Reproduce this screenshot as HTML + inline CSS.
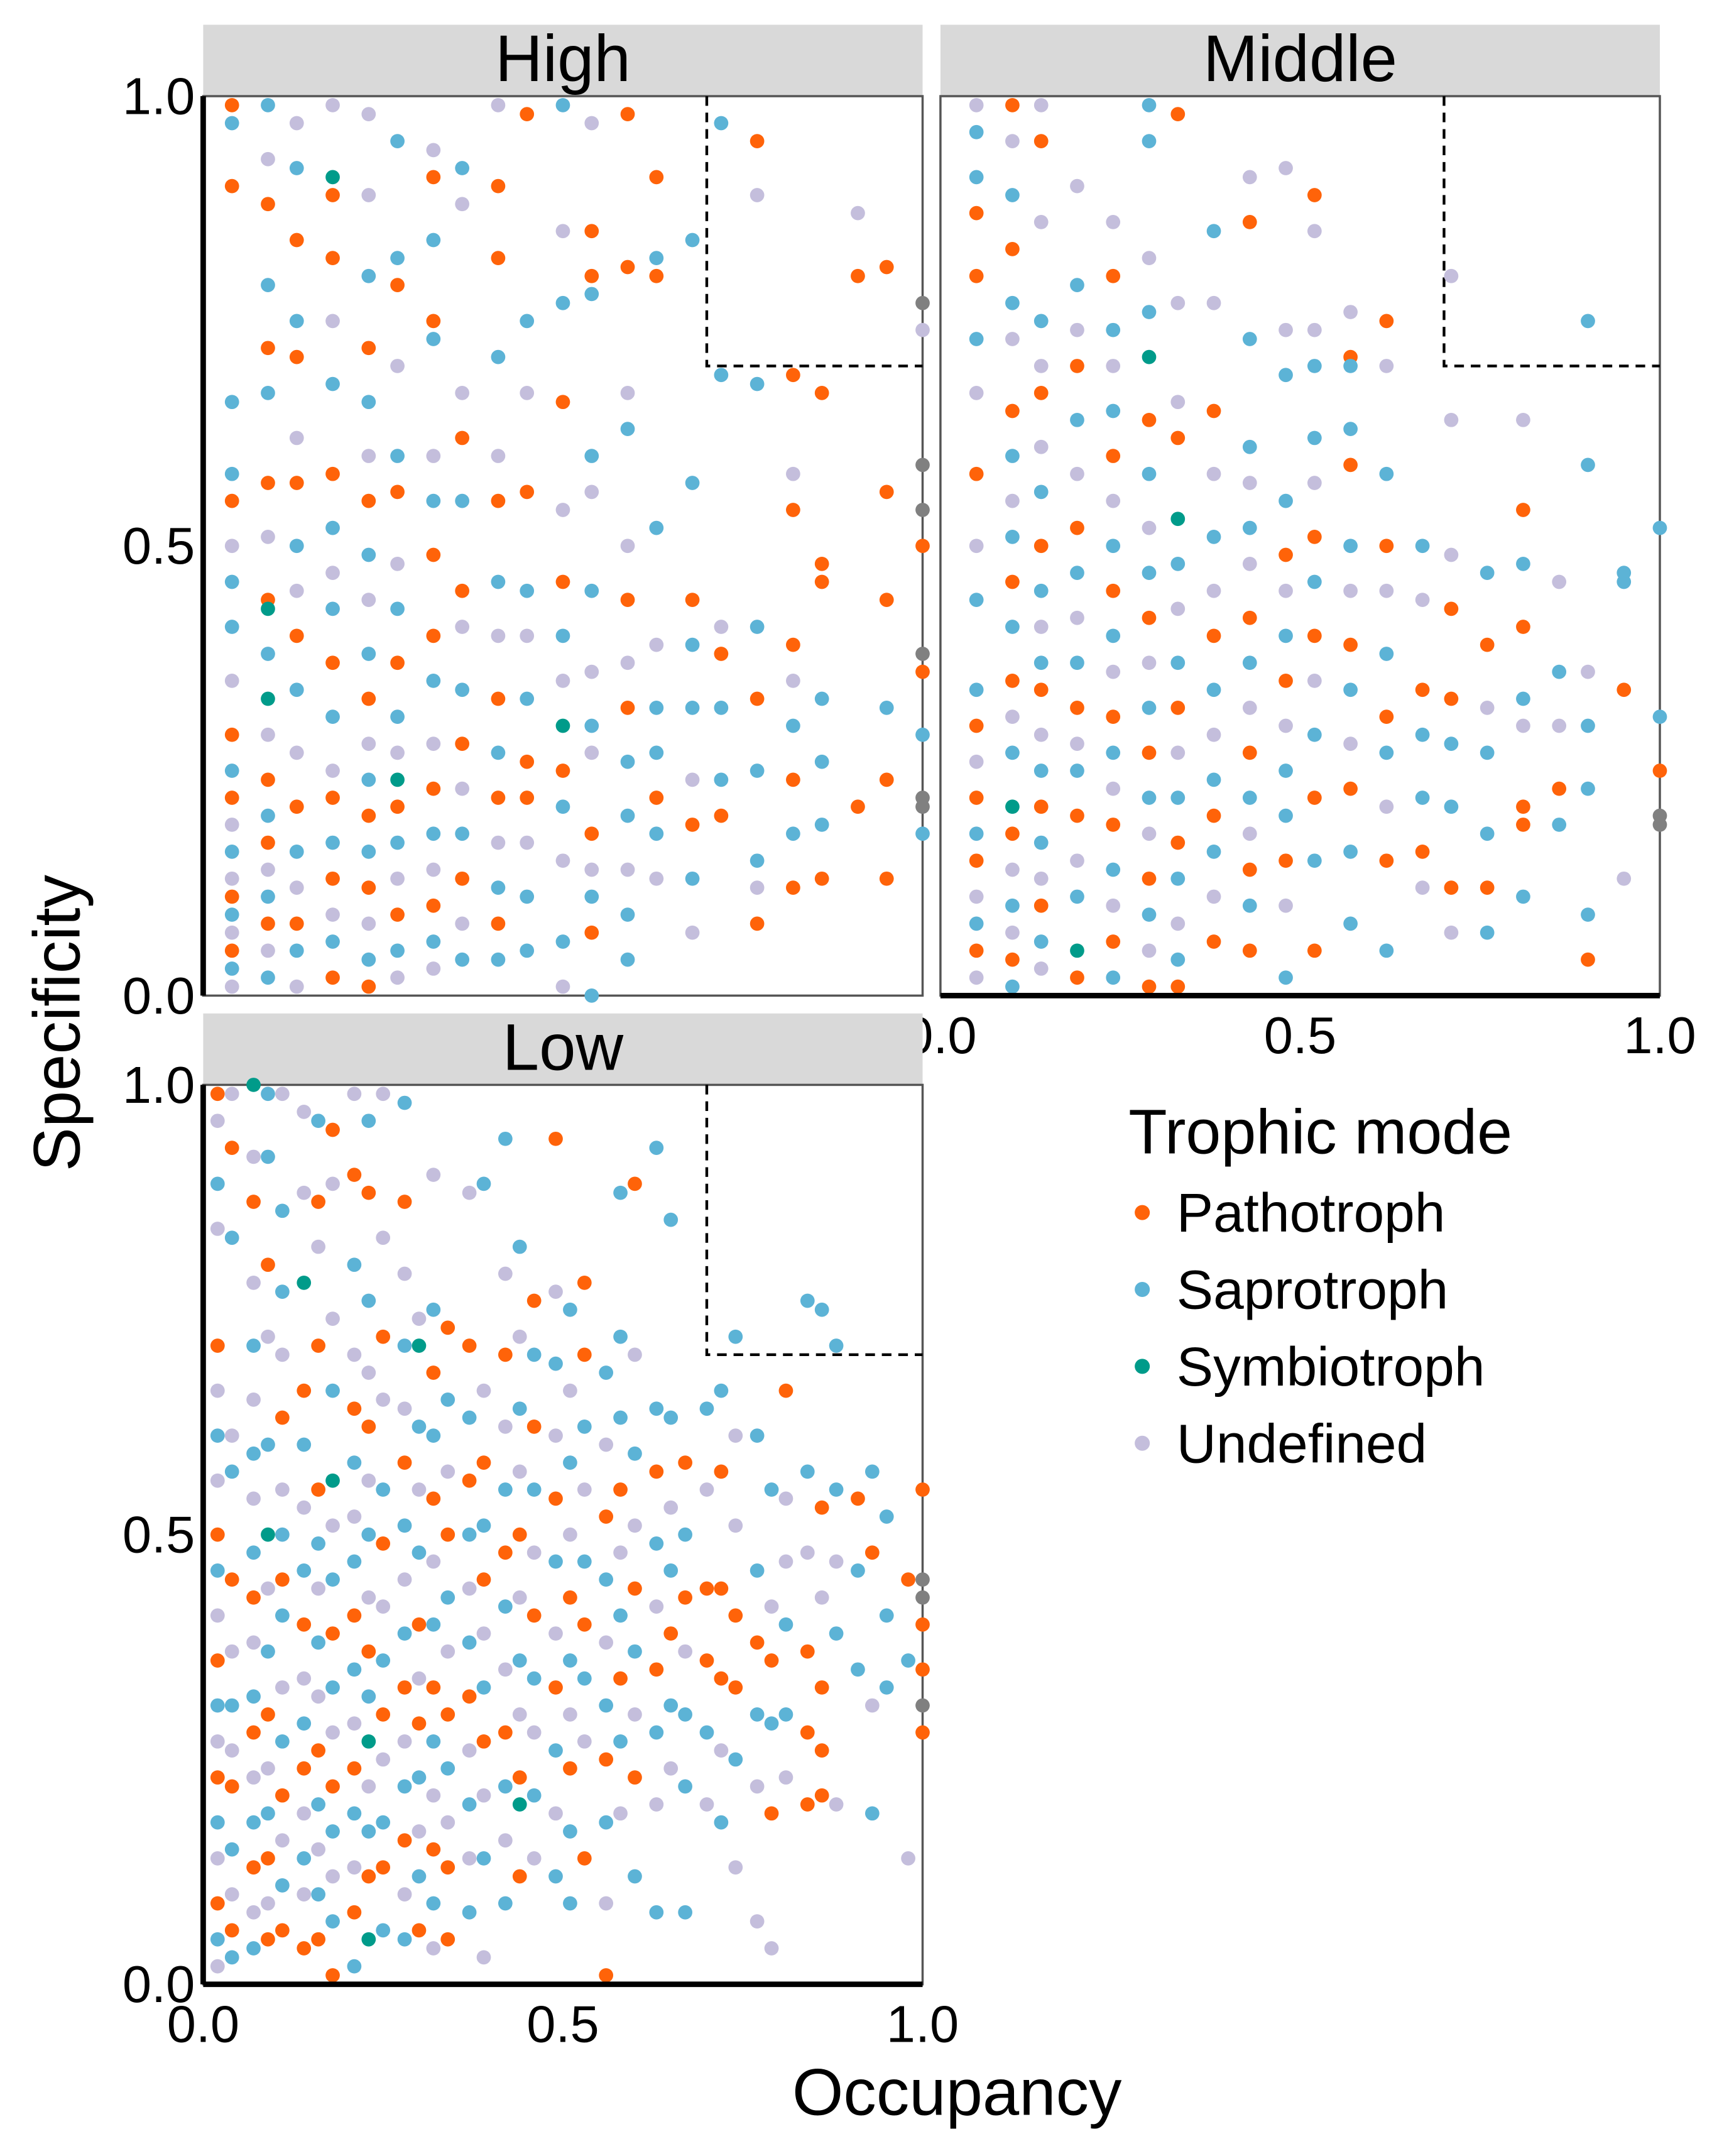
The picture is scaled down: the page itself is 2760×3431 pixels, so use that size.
<!DOCTYPE html>
<html><head><meta charset="utf-8"><style>
html,body{margin:0;padding:0;background:#fff}
svg{display:block}
text{font-family:"Liberation Sans",Arial,sans-serif}
</style></head><body>
<svg id="chart" width="2760" height="3431" viewBox="0 0 1263 1570" xmlns="http://www.w3.org/2000/svg">
<g id="root"></g>
</svg>
<script>
// Data arrays: "x,y,mode" triples per facet (P=Pathotroph,S=Saprotroph,Y=Symbiotroph,U=Undefined,G=grey)
const highPts = "0.04,0.99,P;0.04,0.97,S;0.04,0.90,P;0.04,0.66,S;0.04,0.58,S;0.04,0.55,P;0.04,0.50,U;0.04,0.46,S;0.04,0.41,S;0.04,0.35,U;0.04,0.29,P;0.04,0.25,S;0.04,0.22,P;0.04,0.19,U;0.04,0.16,S;0.04,0.13,U;0.04,0.11,P;0.04,0.09,S;0.04,0.07,U;0.04,0.05,P;0.04,0.03,S;0.04,0.01,U;0.09,0.99,S;0.09,0.93,U;0.09,0.88,P;0.09,0.79,S;0.09,0.72,P;0.09,0.67,S;0.09,0.57,P;0.09,0.51,U;0.09,0.44,P;0.09,0.43,Y;0.09,0.38,S;0.09,0.33,Y;0.09,0.29,U;0.09,0.24,P;0.09,0.20,S;0.09,0.17,P;0.09,0.14,U;0.09,0.11,S;0.09,0.08,P;0.09,0.05,U;0.09,0.02,S;0.13,0.97,U;0.13,0.92,S;0.13,0.84,P;0.13,0.75,S;0.13,0.71,P;0.13,0.62,U;0.13,0.57,P;0.13,0.50,S;0.13,0.45,U;0.13,0.40,P;0.13,0.34,S;0.13,0.27,U;0.13,0.21,P;0.13,0.16,S;0.13,0.12,U;0.13,0.08,P;0.13,0.05,S;0.13,0.01,U;0.18,0.99,U;0.18,0.91,Y;0.18,0.89,P;0.18,0.82,P;0.18,0.75,U;0.18,0.68,S;0.18,0.58,P;0.18,0.52,S;0.18,0.47,U;0.18,0.43,S;0.18,0.37,P;0.18,0.31,S;0.18,0.25,U;0.18,0.22,P;0.18,0.17,S;0.18,0.13,P;0.18,0.09,U;0.18,0.06,S;0.18,0.02,P;0.23,0.98,U;0.23,0.89,U;0.23,0.80,S;0.23,0.72,P;0.23,0.66,S;0.23,0.60,U;0.23,0.55,P;0.23,0.49,S;0.23,0.44,U;0.23,0.38,S;0.23,0.33,P;0.23,0.28,U;0.23,0.24,S;0.23,0.20,P;0.23,0.16,S;0.23,0.12,P;0.23,0.08,U;0.23,0.04,S;0.23,0.01,P;0.27,0.95,S;0.27,0.82,S;0.27,0.79,P;0.27,0.70,U;0.27,0.60,S;0.27,0.56,P;0.27,0.48,U;0.27,0.43,S;0.27,0.37,P;0.27,0.31,S;0.27,0.27,U;0.27,0.24,Y;0.27,0.21,P;0.27,0.17,S;0.27,0.13,U;0.27,0.09,P;0.27,0.05,S;0.27,0.02,U;0.32,0.94,U;0.32,0.91,P;0.32,0.84,S;0.32,0.75,P;0.32,0.73,S;0.32,0.60,U;0.32,0.55,S;0.32,0.49,P;0.32,0.40,P;0.32,0.35,S;0.32,0.28,U;0.32,0.23,P;0.32,0.18,S;0.32,0.14,U;0.32,0.10,P;0.32,0.06,S;0.32,0.03,U;0.36,0.92,S;0.36,0.88,U;0.36,0.67,U;0.36,0.62,P;0.36,0.55,S;0.36,0.45,P;0.36,0.41,U;0.36,0.34,S;0.36,0.28,P;0.36,0.23,U;0.36,0.18,S;0.36,0.13,P;0.36,0.08,U;0.36,0.04,S;0.41,0.99,U;0.41,0.90,P;0.41,0.82,P;0.41,0.71,S;0.41,0.60,U;0.41,0.55,P;0.41,0.46,S;0.41,0.40,U;0.41,0.33,P;0.41,0.27,S;0.41,0.22,P;0.41,0.17,U;0.41,0.12,S;0.41,0.08,P;0.41,0.04,S;0.45,0.98,P;0.45,0.75,S;0.45,0.67,U;0.45,0.56,P;0.45,0.45,S;0.45,0.40,U;0.45,0.33,S;0.45,0.26,P;0.45,0.22,P;0.45,0.17,U;0.45,0.11,S;0.45,0.05,S;0.50,0.99,S;0.50,0.85,U;0.50,0.77,S;0.50,0.66,P;0.50,0.54,U;0.50,0.46,P;0.50,0.40,S;0.50,0.35,U;0.50,0.30,Y;0.50,0.25,P;0.50,0.21,S;0.50,0.15,U;0.50,0.06,S;0.50,0.01,U;0.54,0.97,U;0.54,0.85,P;0.54,0.80,P;0.54,0.78,S;0.54,0.60,S;0.54,0.56,U;0.54,0.45,S;0.54,0.36,U;0.54,0.30,S;0.54,0.27,U;0.54,0.18,P;0.54,0.14,U;0.54,0.11,S;0.54,0.07,P;0.54,0.00,S;0.59,0.98,P;0.59,0.81,P;0.59,0.67,U;0.59,0.63,S;0.59,0.50,U;0.59,0.44,P;0.59,0.37,U;0.59,0.32,P;0.59,0.26,S;0.59,0.20,S;0.59,0.14,U;0.59,0.09,S;0.59,0.04,S;0.63,0.91,P;0.63,0.82,S;0.63,0.80,P;0.63,0.52,S;0.63,0.39,U;0.63,0.32,S;0.63,0.27,S;0.63,0.22,P;0.63,0.18,S;0.63,0.13,U;0.68,0.84,S;0.68,0.57,S;0.68,0.44,P;0.68,0.39,S;0.68,0.32,S;0.68,0.24,U;0.68,0.19,P;0.68,0.13,S;0.68,0.07,U;0.72,0.97,S;0.72,0.69,S;0.72,0.41,U;0.72,0.38,P;0.72,0.32,S;0.72,0.24,S;0.72,0.20,P;0.77,0.95,P;0.77,0.89,U;0.77,0.68,S;0.77,0.41,S;0.77,0.33,P;0.77,0.25,S;0.77,0.15,S;0.77,0.12,U;0.77,0.08,P;0.82,0.69,P;0.82,0.58,U;0.82,0.54,P;0.82,0.39,P;0.82,0.35,U;0.82,0.30,S;0.82,0.24,P;0.82,0.18,S;0.82,0.12,P;0.86,0.67,P;0.86,0.46,P;0.86,0.48,P;0.86,0.33,S;0.86,0.26,S;0.86,0.19,S;0.86,0.13,P;0.91,0.87,U;0.91,0.80,P;0.91,0.21,P;0.95,0.81,P;0.95,0.56,P;0.95,0.44,P;0.95,0.32,S;0.95,0.24,P;0.95,0.13,P;1.0,0.77,G;1.0,0.74,U;1.0,0.59,G;1.0,0.54,G;1.0,0.50,P;1.0,0.38,G;1.0,0.36,P;1.0,0.29,S;1.0,0.22,G;1.0,0.21,G;1.0,0.18,S";
const middlePts = "0.05,0.99,U;0.05,0.96,S;0.05,0.91,S;0.05,0.87,P;0.05,0.80,P;0.05,0.73,S;0.05,0.67,U;0.05,0.58,P;0.05,0.50,U;0.05,0.44,S;0.05,0.34,S;0.05,0.30,P;0.05,0.26,U;0.05,0.22,P;0.05,0.18,S;0.05,0.15,P;0.05,0.11,U;0.05,0.08,S;0.05,0.05,P;0.05,0.02,U;0.1,0.99,P;0.1,0.95,U;0.1,0.89,S;0.1,0.83,P;0.1,0.77,S;0.1,0.73,U;0.1,0.65,P;0.1,0.60,S;0.1,0.55,U;0.1,0.51,S;0.1,0.46,P;0.1,0.41,S;0.1,0.35,P;0.1,0.31,U;0.1,0.27,S;0.1,0.21,Y;0.1,0.18,P;0.1,0.14,U;0.1,0.10,S;0.1,0.07,U;0.1,0.04,P;0.1,0.01,S;0.14,0.99,U;0.14,0.95,P;0.14,0.86,U;0.14,0.75,S;0.14,0.70,U;0.14,0.67,P;0.14,0.61,U;0.14,0.56,S;0.14,0.50,P;0.14,0.45,S;0.14,0.41,U;0.14,0.37,S;0.14,0.34,P;0.14,0.29,U;0.14,0.25,S;0.14,0.21,P;0.14,0.17,S;0.14,0.13,U;0.14,0.10,P;0.14,0.06,S;0.14,0.03,U;0.19,0.90,U;0.19,0.79,S;0.19,0.74,U;0.19,0.70,P;0.19,0.64,S;0.19,0.58,U;0.19,0.52,P;0.19,0.47,S;0.19,0.42,U;0.19,0.37,S;0.19,0.32,P;0.19,0.28,U;0.19,0.25,S;0.19,0.20,P;0.19,0.15,U;0.19,0.11,S;0.19,0.05,Y;0.19,0.02,P;0.24,0.86,U;0.24,0.80,P;0.24,0.74,S;0.24,0.70,U;0.24,0.65,S;0.24,0.60,P;0.24,0.55,U;0.24,0.50,S;0.24,0.45,P;0.24,0.40,S;0.24,0.36,U;0.24,0.31,P;0.24,0.27,S;0.24,0.23,U;0.24,0.19,P;0.24,0.14,S;0.24,0.10,U;0.24,0.06,P;0.24,0.02,S;0.29,0.99,S;0.29,0.95,S;0.29,0.82,U;0.29,0.76,S;0.29,0.71,Y;0.29,0.64,P;0.29,0.58,S;0.29,0.52,U;0.29,0.47,S;0.29,0.42,P;0.29,0.37,U;0.29,0.32,S;0.29,0.27,P;0.29,0.22,S;0.29,0.18,U;0.29,0.13,P;0.29,0.09,S;0.29,0.05,U;0.29,0.01,P;0.33,0.98,P;0.33,0.77,U;0.33,0.66,U;0.33,0.62,P;0.33,0.53,Y;0.33,0.48,S;0.33,0.43,U;0.33,0.37,S;0.33,0.32,P;0.33,0.27,U;0.33,0.22,S;0.33,0.17,P;0.33,0.13,S;0.33,0.08,U;0.33,0.04,S;0.33,0.01,P;0.38,0.85,S;0.38,0.77,U;0.38,0.65,P;0.38,0.58,U;0.38,0.51,S;0.38,0.45,U;0.38,0.40,P;0.38,0.34,S;0.38,0.29,U;0.38,0.24,S;0.38,0.20,P;0.38,0.16,S;0.38,0.11,U;0.38,0.06,P;0.43,0.91,U;0.43,0.86,P;0.43,0.73,S;0.43,0.61,S;0.43,0.57,U;0.43,0.52,S;0.43,0.48,U;0.43,0.42,P;0.43,0.37,S;0.43,0.32,U;0.43,0.27,P;0.43,0.22,S;0.43,0.18,U;0.43,0.14,P;0.43,0.10,S;0.43,0.05,P;0.48,0.92,U;0.48,0.74,U;0.48,0.69,S;0.48,0.55,S;0.48,0.49,P;0.48,0.45,U;0.48,0.40,S;0.48,0.35,P;0.48,0.30,U;0.48,0.25,S;0.48,0.20,S;0.48,0.15,P;0.48,0.10,U;0.48,0.02,S;0.52,0.89,P;0.52,0.85,U;0.52,0.74,U;0.52,0.70,S;0.52,0.62,S;0.52,0.57,U;0.52,0.51,P;0.52,0.46,S;0.52,0.40,P;0.52,0.35,U;0.52,0.29,S;0.52,0.22,P;0.52,0.15,S;0.52,0.05,P;0.57,0.76,U;0.57,0.71,P;0.57,0.70,S;0.57,0.63,S;0.57,0.59,P;0.57,0.50,S;0.57,0.45,U;0.57,0.39,P;0.57,0.34,S;0.57,0.28,U;0.57,0.23,P;0.57,0.16,S;0.57,0.08,S;0.62,0.75,P;0.62,0.70,U;0.62,0.58,S;0.62,0.50,P;0.62,0.45,U;0.62,0.38,S;0.62,0.31,P;0.62,0.27,S;0.62,0.21,U;0.62,0.15,P;0.62,0.05,S;0.67,0.50,S;0.67,0.44,U;0.67,0.34,P;0.67,0.29,S;0.67,0.22,S;0.67,0.16,P;0.67,0.12,U;0.71,0.80,U;0.71,0.64,U;0.71,0.49,U;0.71,0.43,P;0.71,0.33,P;0.71,0.28,S;0.71,0.21,S;0.71,0.12,P;0.71,0.07,U;0.76,0.47,S;0.76,0.39,P;0.76,0.32,U;0.76,0.27,S;0.76,0.18,S;0.76,0.12,P;0.76,0.07,S;0.81,0.64,U;0.81,0.54,P;0.81,0.48,S;0.81,0.41,P;0.81,0.33,S;0.81,0.30,U;0.81,0.21,P;0.81,0.19,P;0.81,0.11,S;0.86,0.46,U;0.86,0.36,S;0.86,0.30,U;0.86,0.23,P;0.86,0.19,S;0.9,0.75,S;0.9,0.59,S;0.9,0.36,U;0.9,0.30,S;0.9,0.23,S;0.9,0.09,S;0.9,0.04,P;0.95,0.47,S;0.95,0.46,S;0.95,0.34,P;0.95,0.13,U;1.0,0.52,S;1.0,0.31,S;1.0,0.25,P;1.0,0.20,G;1.0,0.19,G";
const lowPts = "0.02,0.99,P;0.02,0.96,U;0.02,0.89,S;0.02,0.84,U;0.02,0.71,P;0.02,0.66,U;0.02,0.61,S;0.02,0.56,U;0.02,0.50,P;0.02,0.46,S;0.02,0.41,U;0.02,0.36,P;0.02,0.31,S;0.02,0.27,U;0.02,0.23,P;0.02,0.18,S;0.02,0.14,U;0.02,0.09,P;0.02,0.05,S;0.02,0.02,U;0.04,0.99,U;0.04,0.93,P;0.04,0.83,S;0.04,0.61,U;0.04,0.57,S;0.04,0.45,P;0.04,0.37,U;0.04,0.31,S;0.04,0.26,U;0.04,0.22,P;0.04,0.15,S;0.04,0.10,U;0.04,0.06,P;0.04,0.03,S;0.07,1.0,Y;0.07,0.92,U;0.07,0.87,P;0.07,0.78,U;0.07,0.71,S;0.07,0.65,U;0.07,0.59,S;0.07,0.54,U;0.07,0.48,S;0.07,0.43,P;0.07,0.38,U;0.07,0.32,S;0.07,0.28,P;0.07,0.23,U;0.07,0.18,S;0.07,0.13,P;0.07,0.08,U;0.07,0.04,S;0.09,0.99,S;0.09,0.92,S;0.09,0.80,P;0.09,0.72,U;0.09,0.60,S;0.09,0.50,Y;0.09,0.44,U;0.09,0.37,S;0.09,0.30,P;0.09,0.24,U;0.09,0.19,S;0.09,0.14,P;0.09,0.09,U;0.09,0.05,P;0.11,0.99,U;0.11,0.86,S;0.11,0.77,S;0.11,0.70,U;0.11,0.63,P;0.11,0.55,U;0.11,0.50,S;0.11,0.45,P;0.11,0.41,S;0.11,0.33,U;0.11,0.27,S;0.11,0.21,P;0.11,0.16,U;0.11,0.11,S;0.11,0.06,P;0.14,0.97,U;0.14,0.88,U;0.14,0.78,Y;0.14,0.66,P;0.14,0.60,S;0.14,0.53,U;0.14,0.46,S;0.14,0.40,P;0.14,0.34,U;0.14,0.29,S;0.14,0.24,P;0.14,0.19,U;0.14,0.14,S;0.14,0.10,U;0.14,0.04,P;0.16,0.96,S;0.16,0.87,P;0.16,0.82,U;0.16,0.71,P;0.16,0.55,P;0.16,0.49,S;0.16,0.44,U;0.16,0.38,S;0.16,0.32,U;0.16,0.26,P;0.16,0.20,S;0.16,0.15,U;0.16,0.10,S;0.16,0.05,P;0.18,0.95,P;0.18,0.89,U;0.18,0.74,U;0.18,0.66,S;0.18,0.56,Y;0.18,0.51,U;0.18,0.45,S;0.18,0.39,P;0.18,0.33,S;0.18,0.28,U;0.18,0.22,P;0.18,0.17,S;0.18,0.12,U;0.18,0.07,S;0.18,0.01,P;0.21,0.99,U;0.21,0.90,P;0.21,0.80,S;0.21,0.70,U;0.21,0.64,P;0.21,0.58,S;0.21,0.52,U;0.21,0.47,S;0.21,0.41,P;0.21,0.35,S;0.21,0.29,U;0.21,0.24,P;0.21,0.19,S;0.21,0.13,U;0.21,0.08,P;0.21,0.02,S;0.23,0.96,S;0.23,0.88,P;0.23,0.76,S;0.23,0.68,U;0.23,0.62,P;0.23,0.56,U;0.23,0.50,S;0.23,0.43,U;0.23,0.37,P;0.23,0.32,S;0.23,0.27,Y;0.23,0.22,U;0.23,0.17,S;0.23,0.12,P;0.23,0.05,Y;0.25,0.99,U;0.25,0.83,U;0.25,0.72,P;0.25,0.65,U;0.25,0.55,S;0.25,0.49,P;0.25,0.42,U;0.25,0.36,S;0.25,0.30,P;0.25,0.25,U;0.25,0.18,S;0.25,0.13,P;0.25,0.06,S;0.28,0.98,S;0.28,0.87,P;0.28,0.79,U;0.28,0.71,S;0.28,0.64,U;0.28,0.58,P;0.28,0.51,S;0.28,0.45,U;0.28,0.39,S;0.28,0.33,P;0.28,0.27,U;0.28,0.22,S;0.28,0.16,P;0.28,0.10,U;0.28,0.05,S;0.30,0.71,Y;0.30,0.74,U;0.30,0.62,S;0.30,0.55,U;0.30,0.48,S;0.30,0.40,P;0.30,0.34,U;0.30,0.29,P;0.30,0.23,S;0.30,0.17,U;0.30,0.12,S;0.30,0.06,P;0.32,0.90,U;0.32,0.75,S;0.32,0.68,P;0.32,0.61,S;0.32,0.54,P;0.32,0.47,U;0.32,0.40,S;0.32,0.33,P;0.32,0.27,S;0.32,0.21,U;0.32,0.15,P;0.32,0.09,S;0.32,0.04,U;0.34,0.73,P;0.34,0.65,S;0.34,0.57,U;0.34,0.50,P;0.34,0.43,S;0.34,0.37,U;0.34,0.30,P;0.34,0.24,S;0.34,0.18,U;0.34,0.13,P;0.34,0.05,P;0.37,0.88,U;0.37,0.71,P;0.37,0.63,S;0.37,0.56,P;0.37,0.50,S;0.37,0.44,U;0.37,0.38,S;0.37,0.32,P;0.37,0.26,U;0.37,0.20,S;0.37,0.14,U;0.37,0.08,S;0.39,0.89,S;0.39,0.66,U;0.39,0.58,P;0.39,0.51,S;0.39,0.45,P;0.39,0.39,U;0.39,0.33,S;0.39,0.27,P;0.39,0.21,U;0.39,0.14,S;0.39,0.03,U;0.42,0.94,S;0.42,0.79,U;0.42,0.70,P;0.42,0.62,U;0.42,0.55,S;0.42,0.48,P;0.42,0.42,S;0.42,0.35,U;0.42,0.28,P;0.42,0.22,S;0.42,0.16,U;0.42,0.09,S;0.44,0.82,S;0.44,0.72,U;0.44,0.64,S;0.44,0.57,U;0.44,0.50,P;0.44,0.43,U;0.44,0.36,S;0.44,0.30,U;0.44,0.23,P;0.44,0.20,Y;0.44,0.12,P;0.46,0.76,P;0.46,0.70,S;0.46,0.62,P;0.46,0.55,S;0.46,0.48,U;0.46,0.41,P;0.46,0.34,S;0.46,0.28,U;0.46,0.21,S;0.46,0.14,U;0.49,0.94,P;0.49,0.77,U;0.49,0.69,S;0.49,0.61,U;0.49,0.54,P;0.49,0.47,S;0.49,0.39,U;0.49,0.33,P;0.49,0.26,S;0.49,0.19,U;0.49,0.12,S;0.51,0.75,S;0.51,0.66,U;0.51,0.58,S;0.51,0.50,U;0.51,0.43,P;0.51,0.36,S;0.51,0.30,U;0.51,0.24,P;0.51,0.17,S;0.51,0.09,S;0.53,0.78,P;0.53,0.70,P;0.53,0.62,S;0.53,0.55,U;0.53,0.47,S;0.53,0.40,P;0.53,0.34,S;0.53,0.27,U;0.53,0.14,P;0.56,0.68,S;0.56,0.60,U;0.56,0.52,P;0.56,0.45,S;0.56,0.38,U;0.56,0.31,S;0.56,0.25,P;0.56,0.18,S;0.56,0.09,U;0.56,0.01,P;0.58,0.88,S;0.58,0.72,S;0.58,0.63,S;0.58,0.55,P;0.58,0.48,U;0.58,0.41,S;0.58,0.34,P;0.58,0.27,S;0.58,0.19,U;0.60,0.89,P;0.60,0.70,U;0.60,0.59,S;0.60,0.51,U;0.60,0.44,P;0.60,0.37,S;0.60,0.30,U;0.60,0.23,P;0.60,0.12,S;0.63,0.93,S;0.63,0.64,S;0.63,0.57,P;0.63,0.49,S;0.63,0.42,U;0.63,0.35,P;0.63,0.28,S;0.63,0.20,U;0.63,0.08,S;0.65,0.85,S;0.65,0.63,S;0.65,0.53,U;0.65,0.46,S;0.65,0.39,P;0.65,0.31,S;0.65,0.24,U;0.67,0.58,P;0.67,0.50,S;0.67,0.43,P;0.67,0.37,U;0.67,0.30,S;0.67,0.22,S;0.67,0.08,S;0.70,0.64,S;0.70,0.55,U;0.70,0.44,P;0.70,0.36,P;0.70,0.28,S;0.70,0.20,U;0.72,0.66,S;0.72,0.57,P;0.72,0.44,P;0.72,0.34,P;0.72,0.26,U;0.72,0.18,S;0.74,0.72,S;0.74,0.61,U;0.74,0.51,U;0.74,0.41,P;0.74,0.33,P;0.74,0.25,S;0.74,0.13,U;0.77,0.61,S;0.77,0.46,S;0.77,0.38,P;0.77,0.30,S;0.77,0.22,U;0.77,0.07,U;0.79,0.55,S;0.79,0.42,U;0.79,0.36,P;0.79,0.29,S;0.79,0.19,P;0.79,0.04,U;0.81,0.66,P;0.81,0.54,U;0.81,0.47,U;0.81,0.40,S;0.81,0.30,S;0.81,0.23,U;0.84,0.76,S;0.84,0.57,S;0.84,0.48,U;0.84,0.37,P;0.84,0.28,P;0.84,0.20,P;0.86,0.75,S;0.86,0.53,P;0.86,0.43,U;0.86,0.33,P;0.86,0.26,P;0.86,0.21,P;0.88,0.71,S;0.88,0.55,S;0.88,0.47,U;0.88,0.39,S;0.88,0.20,U;0.91,0.54,P;0.91,0.46,S;0.91,0.35,S;0.93,0.57,S;0.93,0.48,P;0.93,0.31,U;0.93,0.19,S;0.95,0.52,S;0.95,0.41,S;0.95,0.33,S;0.98,0.45,P;0.98,0.36,S;0.98,0.14,U;1.0,0.55,P;1.0,0.45,G;1.0,0.43,G;1.0,0.40,P;1.0,0.35,P;1.0,0.31,G;1.0,0.28,P";
const xTicks = [0.0, 0.5, 1.0];
const yTicks = [0.0, 0.5, 1.0];
const legendLabels = ["Pathotroph","Saprotroph","Symbiotroph","Undefined"];
const modeCodes = ["P","S","Y","U"];

const colors = {P:"#FF6309",S:"#5CB3D6",Y:"#009B8A",U:"#C4BEDC",G:"#808080"};
const NS = "http://www.w3.org/2000/svg";
const root = document.getElementById("root");
function mk(tag, attrs, parent){const e=document.createElementNS(NS,tag);for(const k in attrs)e.setAttribute(k,attrs[k]);(parent||root).appendChild(e);return e;}

const W = 524, H = 655;
const panels = [
  {name:"High", x0:148, y0:70, pts:highPts, leftAxis:true, bottomAxis:false},
  {name:"Middle", x0:685, y0:70, pts:middlePts, leftAxis:false, bottomAxis:true},
  {name:"Low", x0:148, y0:790, pts:lowPts, leftAxis:true, bottomAxis:true}
];

panels.forEach(p=>{
  const sx = v => p.x0 + v*W;
  const sy = v => p.y0 + H - v*H;
  const g = mk("g",{});
  
  
  const strip = mk("rect",{x:p.x0,y:p.y0-52,width:W,height:52,fill:"#D9D9D9"},g);
  
  
  const st = mk("text",{x:p.x0+W/2,y:p.y0-11,"text-anchor":"middle","font-size":48,fill:"#000"},g);
  st.textContent = p.name;
  
  
  const border = mk("rect",{x:p.x0,y:p.y0,width:W,height:H,fill:"none",stroke:"#555","stroke-width":1.6},g);
  
  
  const d = mk("path",{d:`M${sx(0.7)},${sy(1)} L${sx(0.7)},${sy(0.7)} L${sx(1)},${sy(0.7)}`,fill:"none",stroke:"#000","stroke-width":2,"stroke-dasharray":"7,5"},g);
  
  
  p.pts.split(";").forEach(s=>{
    const a=s.split(",");
    const c = mk("circle",{cx:sx(+a[0]),cy:sy(+a[1]),r:5.2,fill:colors[a[2]]},g);
    
    
  });
  if(p.leftAxis){
    const l = mk("line",{x1:p.x0,y1:p.y0,x2:p.x0,y2:p.y0+H,stroke:"#000","stroke-width":4},g);
    
    
    yTicks.forEach(t=>{
      const tx = mk("text",{x:p.x0-6,y:sy(t)+13,"text-anchor":"end","font-size":38,fill:"#000"},g);
      tx.textContent = t.toFixed(1);
      
      
    });
  }
  if(p.bottomAxis){
    const l = mk("line",{x1:p.x0,y1:p.y0+H,x2:p.x0+W,y2:p.y0+H,stroke:"#000","stroke-width":4},g);
    
    
    xTicks.forEach(t=>{
      const tx = mk("text",{x:sx(t),y:p.y0+H+42,"text-anchor":"middle","font-size":38,fill:"#000"},g);
      tx.textContent = t.toFixed(1);
      
      
    });
  }
});

const yt = mk("text",{x:0,y:0,transform:"translate(58,745) rotate(-90)","text-anchor":"middle","font-size":48,fill:"#000"});
yt.textContent="Specificity";


const xt = mk("text",{x:697,y:1540,"text-anchor":"middle","font-size":48,fill:"#000"});
xt.textContent="Occupancy";



const lg = mk("g",{});


const lt = mk("text",{x:822,y:840,"font-size":46,fill:"#000"},lg);
lt.textContent="Trophic mode";


legendLabels.forEach((lab,i)=>{
  const y = 883 + i*56;
  const c = mk("circle",{cx:832,cy:y,r:5.5,fill:colors[modeCodes[i]]},lg);
  
  
  const t = mk("text",{x:857,y:y+14,"font-size":40,fill:"#000"},lg);
  t.textContent = lab;
  
  
});
</script>
</body></html>
